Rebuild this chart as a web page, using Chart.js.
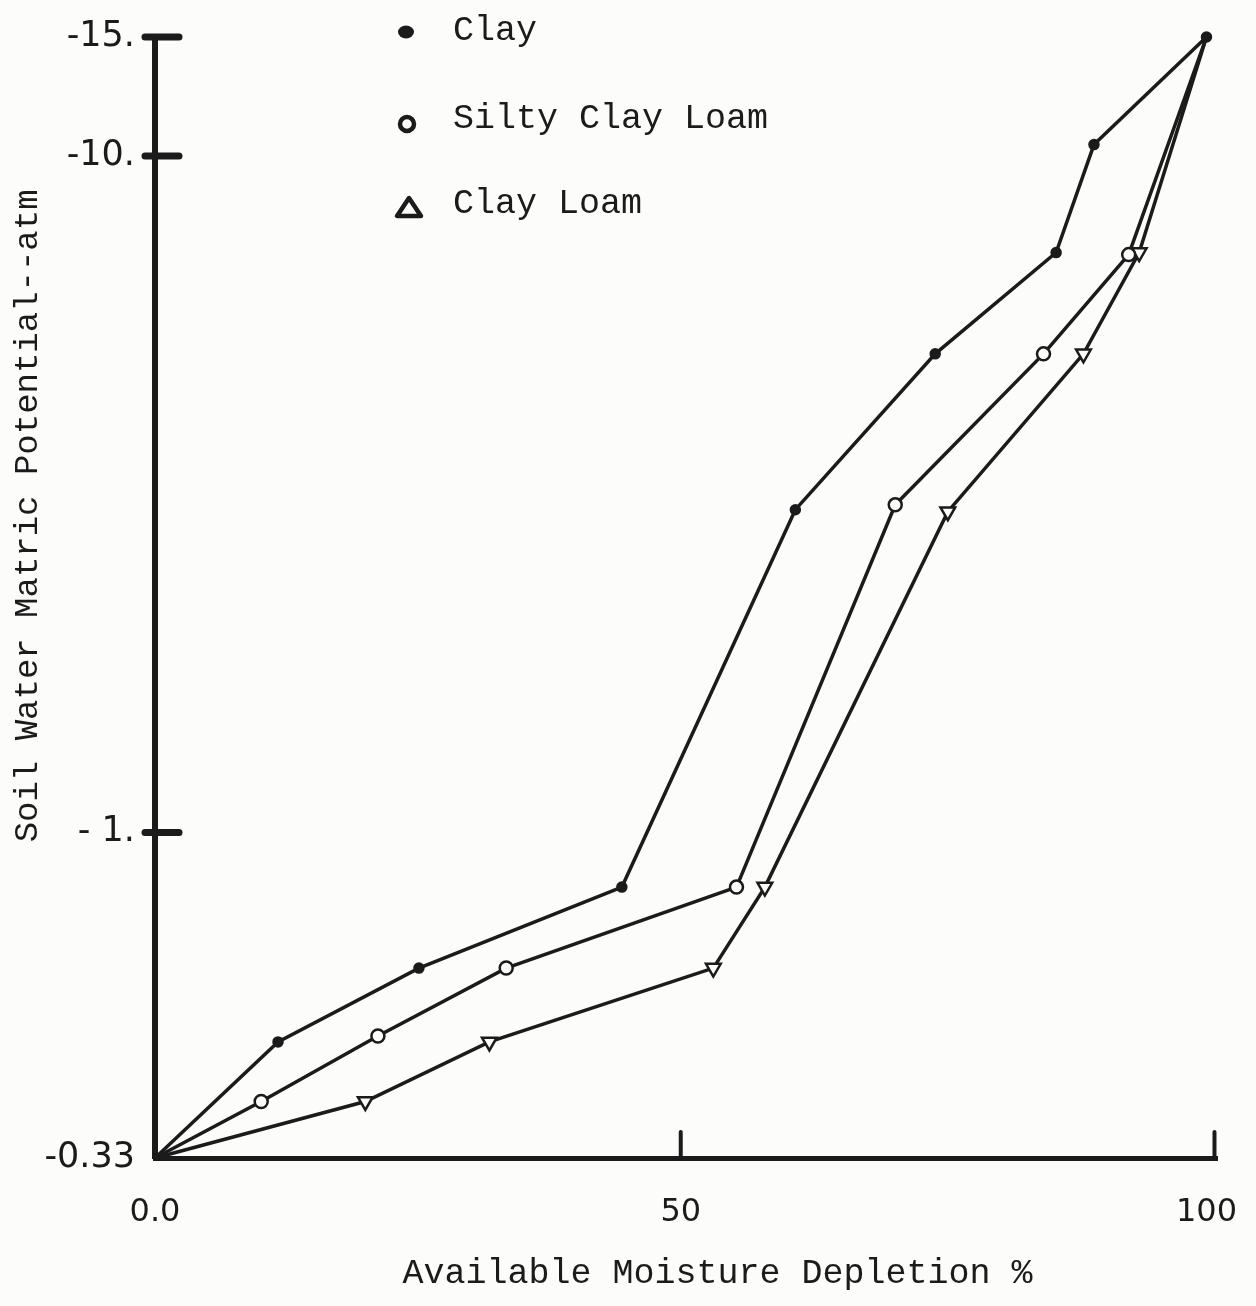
<!DOCTYPE html>
<html>
<head>
<meta charset="utf-8">
<script src="https://cdn.jsdelivr.net/npm/chart.js@4.4.1/dist/chart.umd.min.js"></script>
<style>
  html, body { margin: 0; padding: 0; background: #fcfcfa; }
  #wrap { width: 1256px; height: 1306px; position: relative; }
</style>
</head>
<body>
<div id="wrap"><canvas id="c"></canvas></div>
<script>
// ---- data ----
const seriesNames = ['Clay', 'Silty Clay Loam', 'Clay Loam'];

const clayX = [0, 11.7, 25.1, 44.4, 60.9, 74.2, 85.7, 89.3, 100];
const clayY = [0.33, 0.49, 0.63, 0.83, 3.0, 5.1, 7.2, 10.4, 15];

const siltyClayLoamX = [0, 10.1, 21.2, 33.4, 55.3, 70.4, 84.5, 92.6, 100];
const siltyClayLoamY = [0.33, 0.40, 0.50, 0.63, 0.83, 3.05, 5.1, 7.15, 15];

const clayLoamX = [0, 20.0, 31.8, 53.1, 58.0, 75.4, 88.3, 93.6, 100];
const clayLoamY = [0.33, 0.40, 0.49, 0.63, 0.83, 2.98, 5.1, 7.2, 15];

const xTickValues = [0, 50, 100];
const xTickLabels = ['0.0', '50', '100'];
const yTickValues = [0.33, 1, 10, 15];
const yTickLabels = ['-0.33', '- 1.', '-10.', '-15.'];
const yMarkedTicks = [15, 10, 1];
const xMarkedTicks = [50, 100];

const xTitle = '   Available Moisture Depletion %';
const yTitle = '        Soil Water Matric Potential--atm';

// ---- helpers ----
const pts = (xs, ys) => xs.map((x, i) => ({ x: x, y: ys[i] }));
const INK = '#1b1b1b';
const PAPER = '#fcfcfa';

const bgPlugin = {
  id: 'bg',
  beforeDraw(chart) {
    const ctx = chart.ctx;
    ctx.save();
    ctx.fillStyle = PAPER;
    ctx.fillRect(0, 0, chart.width, chart.height);
    ctx.restore();
  }
};

const tickMarkPlugin = {
  id: 'tickMarks',
  afterDatasetsDraw(chart) {
    const ctx = chart.ctx;
    const ys = chart.scales.y, xs = chart.scales.x;
    const left = chart.chartArea.left;
    const bottom = chart.chartArea.bottom;
    ctx.save();
    ctx.strokeStyle = INK;
    ctx.lineCap = 'round';
    ctx.lineWidth = 7;
    yMarkedTicks.forEach(v => {
      const py = ys.getPixelForValue(v);
      ctx.beginPath();
      ctx.moveTo(left - 10, py);
      ctx.lineTo(left + 24, py);
      ctx.stroke();
    });
    ctx.lineWidth = 4;
    xMarkedTicks.forEach(v => {
      const px = xs.getPixelForValue(v) + (v === 100 ? 8 : 0);
      ctx.beginPath();
      ctx.moveTo(px, bottom);
      ctx.lineTo(px, bottom - 26);
      ctx.stroke();
    });
    ctx.restore();
  }
};

const legendPlugin = {
  id: 'customLegend',
  afterDraw(chart) {
    const ctx = chart.ctx;
    ctx.save();
    ctx.strokeStyle = INK;
    ctx.fillStyle = INK;
    // Clay: filled dot
    ctx.beginPath();
    ctx.ellipse(406, 32, 8, 6.5, 0, 0, Math.PI * 2);
    ctx.fill();
    // Silty Clay Loam: open circle
    ctx.lineWidth = 4.5;
    ctx.beginPath();
    ctx.arc(407, 124, 7, 0, Math.PI * 2);
    ctx.stroke();
    // Clay Loam: open triangle
    ctx.lineWidth = 4.5;
    ctx.lineJoin = 'round';
    ctx.beginPath();
    ctx.moveTo(409, 198);
    ctx.lineTo(397, 216);
    ctx.lineTo(421, 216);
    ctx.closePath();
    ctx.stroke();
    ctx.font = '35px "Liberation Mono", "DejaVu Sans Mono", monospace';
    ctx.textBaseline = 'alphabetic';
    ctx.textAlign = 'left';
    ctx.fillText(seriesNames[0], 453, 40);
    ctx.fillText(seriesNames[1], 453, 128);
    ctx.fillText(seriesNames[2], 453, 213);
    ctx.restore();
  }
};

const lineStyle = {
  borderColor: INK,
  borderWidth: 3.5,
  tension: 0,
  fill: false,
  clip: false,
  pointBorderColor: INK,
  pointBorderWidth: 2.5
};

new Chart(document.getElementById('c'), {
  type: 'line',
  data: {
    datasets: [
      Object.assign({}, lineStyle, {
        label: seriesNames[0],
        data: pts(clayX, clayY),
        pointStyle: 'circle',
        pointBackgroundColor: INK,
        pointRadius: ctx => (ctx.dataIndex === 0 ? 0 : 4.5)
      }),
      Object.assign({}, lineStyle, {
        label: seriesNames[1],
        data: pts(siltyClayLoamX, siltyClayLoamY),
        pointStyle: 'circle',
        pointBackgroundColor: PAPER,
        pointRadius: ctx => (ctx.dataIndex === 0 || ctx.dataIndex === siltyClayLoamX.length - 1 ? 0 : 6.5)
      }),
      Object.assign({}, lineStyle, {
        label: seriesNames[2],
        data: pts(clayLoamX, clayLoamY),
        pointStyle: 'triangle',
        pointRotation: 180,
        pointBackgroundColor: PAPER,
        pointRadius: ctx => (ctx.dataIndex === 0 || ctx.dataIndex === clayLoamX.length - 1 ? 0 : 8.5)
      })
    ]
  },
  options: {
    responsive: true,
    maintainAspectRatio: false,
    animation: false,
    layout: { padding: { top: 37, right: 39, bottom: 0, left: 0 } },
    plugins: {
      legend: { display: false },
      tooltip: { enabled: false }
    },
    scales: {
      x: {
        type: 'linear',
        min: 0,
        max: 101,
        bounds: 'data',
        afterBuildTicks: s => { s.ticks = xTickValues.map(v => ({ value: v })); },
        afterFit: s => { s.height = 148; s.paddingLeft = 0; s.paddingRight = 0; },
        grid: { display: false, drawTicks: false },
        border: { display: true, color: INK, width: 5 },
        ticks: {
          color: INK,
          padding: 35,
          maxRotation: 0,
          autoSkip: false,
          font: { family: '"DejaVu Sans", sans-serif', size: 32 },
          callback: v => { const i = xTickValues.indexOf(v); return i >= 0 ? xTickLabels[i] : ''; }
        },
        title: {
          display: true,
          text: xTitle,
          color: INK,
          padding: { top: 0, bottom: 11 },
          font: { family: '"Liberation Mono", "DejaVu Sans Mono", monospace', size: 35 }
        }
      },
      y: {
        type: 'logarithmic',
        min: 0.33,
        max: 15,
        bounds: 'data',
        afterBuildTicks: s => { s.ticks = yTickValues.map(v => ({ value: v })); },
        afterFit: s => { s.width = 155; s.paddingTop = 0; s.paddingBottom = 0; },
        grid: { display: false, drawTicks: false },
        border: { display: true, color: INK, width: 6 },
        ticks: {
          color: INK,
          padding: 20,
          autoSkip: false,
          font: { family: '"DejaVu Sans", sans-serif', size: 35 },
          callback: v => { const i = yTickValues.indexOf(v); return i >= 0 ? yTickLabels[i] : ''; }
        },
        title: {
          display: true,
          text: yTitle,
          color: INK,
          padding: { top: 8, bottom: 0 },
          font: { family: '"Liberation Mono", "DejaVu Sans Mono", monospace', size: 34 }
        }
      }
    }
  },
  plugins: [bgPlugin, tickMarkPlugin, legendPlugin]
});
</script>
</body>
</html>
